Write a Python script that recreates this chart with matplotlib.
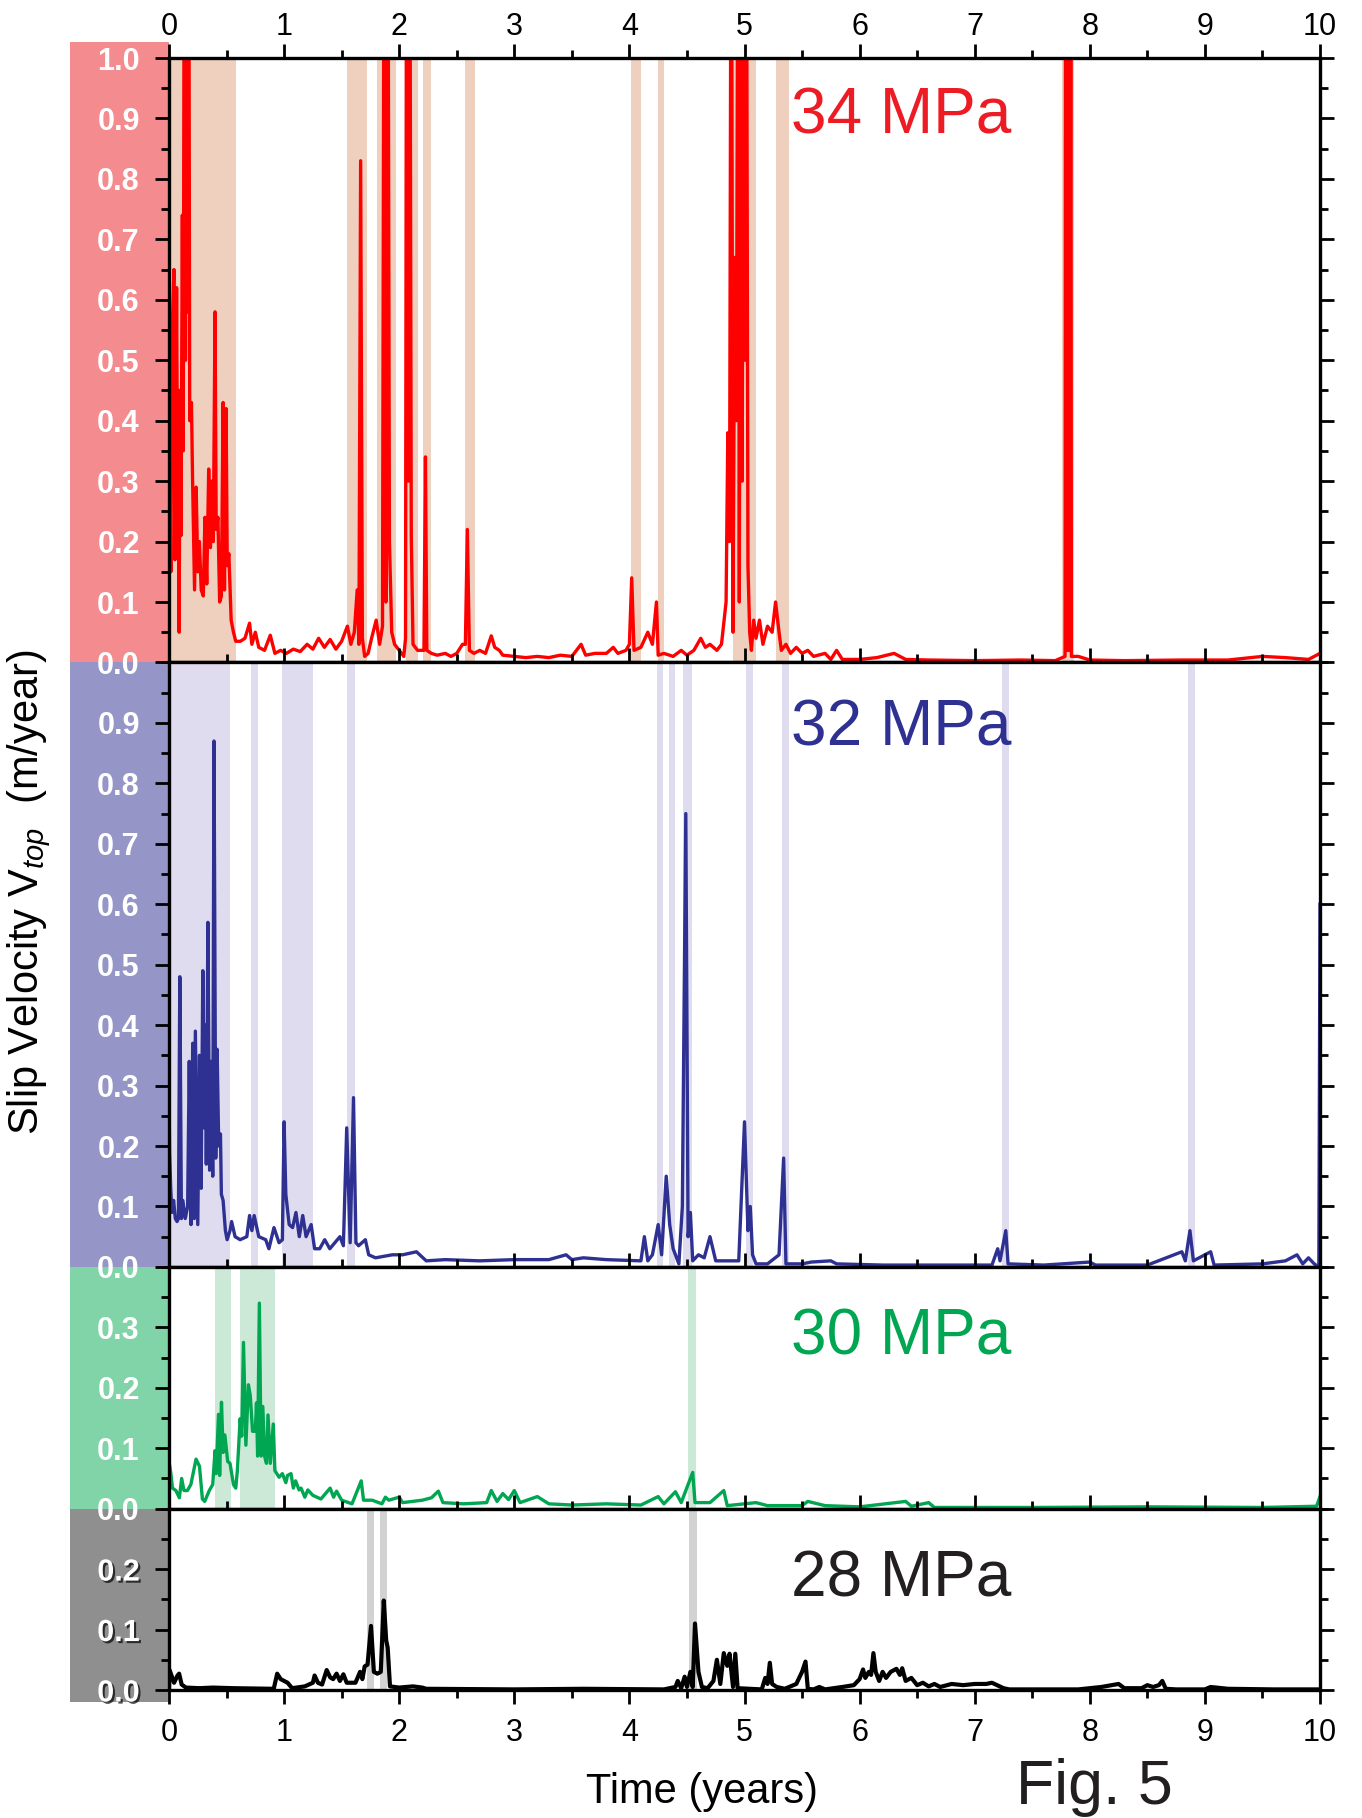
import numpy as np
import matplotlib.pyplot as plt
from matplotlib.patches import Rectangle
from matplotlib.ticker import MultipleLocator
import matplotlib.patheffects as pe

plt.rcParams['font.family'] = ['Liberation Sans', 'DejaVu Sans']
plt.rcParams['mathtext.fontset'] = 'custom'
plt.rcParams['mathtext.rm'] = 'Liberation Sans'
plt.rcParams['mathtext.it'] = 'Liberation Sans:italic'

# panel labels / colours / y ranges (top to bottom)
labels = ['34 MPa', '32 MPa', '30 MPa', '28 MPa']
line_colors = ['#ff0000', '#2e3192', '#00a651', '#000000']
line_widths = [2.4, 2.4, 2.4, 3.0]
text_colors = ['#ed1c24', '#2e3192', '#00a651', '#231f20']
span_colors = ['#efd0bf', '#dedcee', '#cce8d6', '#d2d2d3']
band_colors = ['#f48b8f', '#9695c8', '#80d4a8', '#908f90']
ymax = [1.0, 1.0, 0.4, 0.3]
label_ypos = [0.904, 0.89, 0.71, 0.61]

# shaded slip events (years)
spans34 = [(0.0, 0.58), (1.55, 1.72), (1.81, 1.97), (2.06, 2.16), (2.21, 2.28),
           (2.57, 2.66), (4.01, 4.10), (4.25, 4.30), (4.90, 5.10), (5.27, 5.39),
           (7.76, 7.86)]
spans32 = [(0.0, 0.53), (0.71, 0.77), (0.985, 1.255), (1.545, 1.62), (4.24, 4.29),
           (4.34, 4.40), (4.47, 4.54), (5.01, 5.07), (5.33, 5.39), (7.24, 7.30),
           (8.85, 8.91)]
spans30 = [(0.40, 0.54), (0.615, 0.925), (4.51, 4.58)]
spans28 = [(1.72, 1.78), (1.83, 1.89), (4.52, 4.59)]

# slip velocity (time in years, m/year)
v34 = [(0.0, 0.25), (0.008, 0.32), (0.016, 0.15), (0.028, 0.55), (0.043, 0.65),
       (0.052, 0.17), (0.066, 0.62), (0.076, 0.2), (0.082, 0.45), (0.088, 0.05),
       (0.096, 0.45), (0.104, 0.21), (0.116, 0.74), (0.124, 0.35), (0.134, 1.5),
       (0.143, 0.5), (0.152, 1.5), (0.16, 0.58), (0.17, 1.5), (0.18, 0.4),
       (0.195, 0.43), (0.205, 0.3), (0.222, 0.12), (0.236, 0.29), (0.25, 0.15),
       (0.264, 0.2), (0.28, 0.12), (0.298, 0.11), (0.312, 0.24), (0.328, 0.13),
       (0.345, 0.32), (0.36, 0.19), (0.372, 0.3), (0.385, 0.2), (0.4, 0.58),
       (0.41, 0.22), (0.425, 0.24), (0.44, 0.1), (0.455, 0.11), (0.47, 0.43),
       (0.482, 0.12), (0.496, 0.42), (0.506, 0.16), (0.52, 0.18), (0.54, 0.07),
       (0.56, 0.05), (0.58, 0.035), (0.62, 0.035), (0.66, 0.04), (0.7, 0.065),
       (0.72, 0.03), (0.75, 0.05), (0.78, 0.025), (0.83, 0.02), (0.88, 0.045),
       (0.92, 0.015), (0.97, 0.02), (1.02, 0.015), (1.08, 0.022), (1.14, 0.018),
       (1.2, 0.03), (1.25, 0.022), (1.3, 0.04), (1.35, 0.025), (1.4, 0.038),
       (1.45, 0.022), (1.5, 0.035), (1.55, 0.06), (1.58, 0.03), (1.61, 0.05),
       (1.635, 0.12), (1.65, 0.03), (1.665, 0.83), (1.68, 0.04), (1.7, 0.01),
       (1.73, 0.015), (1.76, 0.04), (1.8, 0.07), (1.83, 0.03), (1.855, 0.06),
       (1.87, 1.5), (1.885, 0.1), (1.9, 1.5), (1.915, 0.2), (1.935, 0.05),
       (1.96, 0.03), (2.0, 0.02), (2.04, 0.01), (2.055, 0.04), (2.065, 1.5),
       (2.08, 0.3), (2.09, 1.5), (2.105, 0.21), (2.12, 0.03), (2.16, 0.02),
       (2.2, 0.02), (2.215, 0.02), (2.228, 0.34), (2.24, 0.02), (2.28, 0.015),
       (2.33, 0.012), (2.4, 0.015), (2.45, 0.01), (2.5, 0.015), (2.55, 0.03),
       (2.575, 0.03), (2.592, 0.22), (2.61, 0.02), (2.65, 0.015), (2.7, 0.02),
       (2.75, 0.015), (2.8, 0.044), (2.83, 0.025), (2.87, 0.02), (2.9, 0.012),
       (3.0, 0.01), (3.1, 0.008), (3.2, 0.01), (3.3, 0.008), (3.4, 0.012),
       (3.5, 0.01), (3.58, 0.03), (3.62, 0.012), (3.7, 0.015), (3.8, 0.015),
       (3.86, 0.025), (3.9, 0.015), (3.97, 0.02), (4.0, 0.03), (4.02, 0.14),
       (4.04, 0.02), (4.1, 0.025), (4.16, 0.05), (4.2, 0.03), (4.235, 0.1),
       (4.25, 0.012), (4.3, 0.015), (4.38, 0.01), (4.45, 0.02), (4.5, 0.012),
       (4.56, 0.02), (4.62, 0.04), (4.66, 0.025), (4.7, 0.03), (4.76, 0.02),
       (4.8, 0.03), (4.84, 0.1), (4.855, 0.38), (4.87, 0.2), (4.885, 1.5),
       (4.9, 0.05), (4.915, 0.67), (4.93, 0.4), (4.945, 1.5), (4.955, 0.1),
       (4.97, 1.5), (4.98, 0.3), (4.995, 1.5), (5.005, 0.5), (5.015, 1.5),
       (5.03, 0.16), (5.045, 0.05), (5.06, 0.02), (5.08, 0.07), (5.1, 0.04),
       (5.13, 0.07), (5.16, 0.03), (5.2, 0.06), (5.24, 0.05), (5.27, 0.1),
       (5.3, 0.05), (5.32, 0.02), (5.36, 0.03), (5.4, 0.015), (5.45, 0.025),
       (5.5, 0.015), (5.55, 0.02), (5.6, 0.01), (5.7, 0.015), (5.75, 0.005),
       (5.8, 0.02), (5.85, 0.005), (6.0, 0.005), (6.15, 0.008), (6.3, 0.015),
       (6.4, 0.005), (6.6, 0.004), (7.0, 0.003), (7.4, 0.004), (7.7, 0.003),
       (7.785, 0.01), (7.79, 1.5), (7.797, 0.02), (7.805, 1.5), (7.812, 0.02),
       (7.82, 1.5), (7.827, 0.02), (7.835, 1.5), (7.84, 0.01), (7.9, 0.01),
       (8.0, 0.004), (8.3, 0.003), (8.8, 0.004), (9.2, 0.004), (9.5, 0.01),
       (9.7, 0.008), (9.9, 0.005), (10.0, 0.015)]

v32 = [(0.0, 0.30), (0.005, 0.19), (0.015, 0.13), (0.025, 0.09), (0.04, 0.11),
       (0.055, 0.08), (0.07, 0.075), (0.082, 0.08), (0.094, 0.48), (0.108, 0.08),
       (0.12, 0.11), (0.141, 0.08), (0.162, 0.10), (0.176, 0.34), (0.191, 0.07),
       (0.206, 0.37), (0.22, 0.08), (0.229, 0.39), (0.25, 0.07), (0.265, 0.35),
       (0.279, 0.13), (0.294, 0.49), (0.306, 0.23), (0.318, 0.40), (0.324, 0.17),
       (0.338, 0.57), (0.353, 0.16), (0.368, 0.34), (0.38, 0.15), (0.391, 0.87),
       (0.406, 0.18), (0.418, 0.36), (0.432, 0.20), (0.447, 0.22), (0.455, 0.12),
       (0.47, 0.11), (0.49, 0.06), (0.505, 0.045), (0.53, 0.06), (0.544, 0.075),
       (0.574, 0.05), (0.618, 0.045), (0.676, 0.05), (0.70, 0.085), (0.72, 0.06),
       (0.74, 0.085), (0.78, 0.05), (0.84, 0.045), (0.868, 0.03), (0.912, 0.065),
       (0.956, 0.04), (0.985, 0.045), (1.0, 0.24), (1.015, 0.12), (1.044, 0.07),
       (1.074, 0.065), (1.103, 0.09), (1.132, 0.05), (1.162, 0.085), (1.191, 0.05),
       (1.235, 0.07), (1.265, 0.03), (1.309, 0.03), (1.353, 0.045), (1.397, 0.03),
       (1.441, 0.04), (1.485, 0.05), (1.515, 0.035), (1.544, 0.23), (1.574, 0.04),
       (1.603, 0.28), (1.624, 0.04), (1.647, 0.035), (1.706, 0.045), (1.735, 0.02),
       (1.794, 0.015), (1.94, 0.02), (2.03, 0.02), (2.15, 0.025), (2.235, 0.01),
       (2.4, 0.012), (2.7, 0.01), (3.0, 0.012), (3.3, 0.012), (3.45, 0.02),
       (3.5, 0.012), (3.6, 0.015), (3.8, 0.012), (4.1, 0.01), (4.13, 0.05),
       (4.16, 0.01), (4.2, 0.02), (4.25, 0.07), (4.28, 0.02), (4.32, 0.15),
       (4.35, 0.07), (4.38, 0.03), (4.43, 0.005), (4.46, 0.1), (4.49, 0.75),
       (4.51, 0.05), (4.53, 0.09), (4.55, 0.01), (4.6, 0.02), (4.65, 0.015),
       (4.7, 0.05), (4.75, 0.01), (4.85, 0.01), (4.95, 0.01), (5.0, 0.24),
       (5.03, 0.06), (5.05, 0.1), (5.07, 0.02), (5.1, 0.005), (5.2, 0.005),
       (5.3, 0.02), (5.34, 0.18), (5.36, 0.005), (5.5, 0.005), (5.58, 0.008),
       (5.75, 0.01), (5.8, 0.005), (6.2, 0.003), (6.8, 0.003), (7.15, 0.003),
       (7.2, 0.03), (7.22, 0.01), (7.27, 0.06), (7.29, 0.005), (7.6, 0.003),
       (8.0, 0.008), (8.05, 0.003), (8.5, 0.003), (8.8, 0.025), (8.83, 0.01),
       (8.87, 0.06), (8.9, 0.01), (9.05, 0.025), (9.08, 0.003), (9.5, 0.005),
       (9.7, 0.01), (9.8, 0.02), (9.85, 0.005), (9.9, 0.015), (9.95, 0.005),
       (9.99, 0.0), (10.0, 0.6)]

v30 = [(0.0, 0.078), (0.015, 0.06), (0.03, 0.034), (0.06, 0.03), (0.09, 0.018),
       (0.11, 0.05), (0.13, 0.03), (0.16, 0.03), (0.19, 0.04), (0.235, 0.082),
       (0.265, 0.07), (0.29, 0.016), (0.31, 0.012), (0.35, 0.03), (0.38, 0.04),
       (0.40, 0.096), (0.41, 0.058), (0.43, 0.156), (0.44, 0.055), (0.456, 0.176),
       (0.47, 0.093), (0.485, 0.122), (0.51, 0.078), (0.53, 0.075), (0.56, 0.04),
       (0.58, 0.034), (0.594, 0.063), (0.618, 0.149), (0.632, 0.12), (0.647, 0.275),
       (0.668, 0.105), (0.69, 0.205), (0.706, 0.187), (0.726, 0.128), (0.75, 0.128),
       (0.76, 0.175), (0.77, 0.087), (0.785, 0.34), (0.80, 0.087), (0.815, 0.169),
       (0.83, 0.087), (0.847, 0.075), (0.86, 0.155), (0.88, 0.075), (0.906, 0.14),
       (0.92, 0.063), (0.956, 0.052), (0.985, 0.058), (1.015, 0.043), (1.03, 0.055),
       (1.06, 0.058), (1.08, 0.034), (1.10, 0.046), (1.13, 0.031), (1.147, 0.034),
       (1.18, 0.019), (1.206, 0.031), (1.25, 0.022), (1.32, 0.016), (1.40, 0.034),
       (1.43, 0.019), (1.456, 0.029), (1.5, 0.014), (1.59, 0.008), (1.67, 0.046),
       (1.69, 0.014), (1.765, 0.014), (1.85, 0.008), (1.88, 0.019), (1.91, 0.014),
       (2.0, 0.019), (2.03, 0.01), (2.2, 0.014), (2.28, 0.018), (2.34, 0.029),
       (2.38, 0.01), (2.56, 0.008), (2.76, 0.01), (2.8, 0.03), (2.85, 0.012),
       (2.9, 0.025), (2.95, 0.015), (3.0, 0.03), (3.05, 0.01), (3.2, 0.02),
       (3.3, 0.008), (3.5, 0.006), (3.8, 0.008), (4.1, 0.006), (4.25, 0.02),
       (4.3, 0.008), (4.4, 0.028), (4.45, 0.01), (4.52, 0.045), (4.55, 0.06),
       (4.57, 0.01), (4.7, 0.01), (4.82, 0.03), (4.85, 0.005), (5.0, 0.008),
       (5.1, 0.01), (5.2, 0.005), (5.5, 0.005), (5.55, 0.012), (5.7, 0.005),
       (6.0, 0.003), (6.4, 0.012), (6.45, 0.004), (6.6, 0.01), (6.65, 0.002),
       (7.5, 0.002), (8.5, 0.003), (9.5, 0.002), (9.97, 0.004), (10.0, 0.02)]

v28 = [(0.0, 0.0), (0.005, 0.033), (0.044, 0.012), (0.074, 0.024), (0.088, 0.027),
       (0.11, 0.009), (0.147, 0.004), (0.265, 0.003), (0.38, 0.004), (0.56, 0.003),
       (0.91, 0.002), (0.94, 0.027), (0.97, 0.018), (1.03, 0.012), (1.07, 0.003),
       (1.18, 0.006), (1.25, 0.012), (1.265, 0.024), (1.294, 0.012), (1.33, 0.009),
       (1.37, 0.033), (1.40, 0.021), (1.426, 0.018), (1.456, 0.027), (1.485, 0.015),
       (1.515, 0.026), (1.544, 0.012), (1.62, 0.012), (1.66, 0.03), (1.68, 0.018),
       (1.70, 0.039), (1.725, 0.042), (1.755, 0.106), (1.78, 0.03), (1.81, 0.027),
       (1.84, 0.03), (1.866, 0.148), (1.887, 0.082), (1.90, 0.07), (1.92, 0.006),
       (2.0, 0.004), (2.12, 0.006), (2.2, 0.004), (2.235, 0.002), (3.0, 0.001),
       (3.6, 0.002), (4.3, 0.001), (4.4, 0.005), (4.42, 0.015), (4.45, 0.003),
       (4.48, 0.022), (4.5, 0.005), (4.53, 0.03), (4.55, 0.005), (4.57, 0.11),
       (4.6, 0.03), (4.63, 0.005), (4.68, 0.003), (4.73, 0.015), (4.76, 0.05),
       (4.79, 0.01), (4.82, 0.061), (4.85, 0.04), (4.87, 0.06), (4.9, 0.005),
       (4.92, 0.06), (4.94, 0.003), (5.15, 0.001), (5.18, 0.02), (5.2, 0.01),
       (5.22, 0.045), (5.24, 0.01), (5.28, 0.005), (5.35, 0.002), (5.45, 0.01),
       (5.5, 0.03), (5.53, 0.047), (5.55, 0.002), (5.6, 0.001), (5.65, 0.005),
       (5.7, 0.001), (5.85, 0.005), (5.95, 0.008), (6.0, 0.018), (6.03, 0.034),
       (6.05, 0.02), (6.08, 0.03), (6.1, 0.025), (6.12, 0.061), (6.14, 0.03),
       (6.17, 0.015), (6.2, 0.03), (6.23, 0.02), (6.27, 0.03), (6.32, 0.035),
       (6.35, 0.025), (6.37, 0.036), (6.4, 0.015), (6.45, 0.02), (6.5, 0.008),
       (6.55, 0.012), (6.6, 0.006), (6.65, 0.01), (6.7, 0.005), (6.8, 0.01),
       (6.9, 0.008), (7.0, 0.01), (7.1, 0.01), (7.15, 0.012), (7.25, 0.003),
       (7.3, 0.001), (7.9, 0.001), (8.0, 0.003), (8.1, 0.005), (8.25, 0.01),
       (8.3, 0.003), (8.45, 0.003), (8.5, 0.008), (8.55, 0.005), (8.6, 0.008),
       (8.63, 0.015), (8.66, 0.002), (8.75, 0.001), (9.0, 0.001), (9.05, 0.005),
       (9.2, 0.002), (9.6, 0.001), (10.0, 0.001)]

series = [v34, v32, v30, v28]
spans = [spans34, spans32, spans30, spans28]

W, H = 1362, 1818
fig = plt.figure(figsize=(W / 100, H / 100), dpi=100)

# plot area in pixels
x_left, x_right = 169, 1320
y_top, y_bottom = 58, 1690
unit = (y_bottom - y_top) / sum(ymax)

y = y_top
axes = []
for i in range(4):
    h = ymax[i] * unit
    ax = fig.add_axes([x_left / W, 1 - (y + h) / H, (x_right - x_left) / W, h / H])

    # coloured band behind the y tick labels
    band_top = y - 16 if i == 0 else y
    band_bot = y + h + 12 if i == 3 else y + h
    fig.patches.append(Rectangle((70 / W, 1 - band_bot / H), (x_left - 70) / W,
                                 (band_bot - band_top) / H, transform=fig.transFigure,
                                 facecolor=band_colors[i], edgecolor='none', zorder=-1))
    y += h

    for a, b in spans[i]:
        ax.axvspan(a, b, color=span_colors[i], lw=0, zorder=0)

    t, v = np.array(series[i]).T
    ax.plot(t, v, color=line_colors[i], lw=line_widths[i], zorder=2)

    ax.set_xlim(0, 10)
    ax.set_ylim(0, ymax[i])

    ax.text(5.4, label_ypos[i], labels[i], transform=ax.get_xaxis_transform(),
            fontsize=46, color=text_colors[i], ha='left', va='center')

    # y ticks (top value only labelled on top panel)
    if i == 0:
        yt = np.arange(0, 1.01, 0.1)
    else:
        yt = np.arange(0, ymax[i] - 0.05, 0.1)
    ax.set_yticks(yt, labels=['%.1f' % val for val in yt], fontsize=22,
                  fontweight='bold', color='white')
    ax.yaxis.set_minor_locator(MultipleLocator(0.05))
    ax.tick_params(axis='y', which='both', direction='out', left=True, right=True, width=2)
    ax.tick_params(axis='y', which='major', length=10, pad=11)
    ax.tick_params(axis='y', which='minor', length=5.5)
    if i == 3:
        for lab in ax.get_yticklabels():
            lab.set_path_effects([pe.withSimplePatchShadow(offset=(1.5, -1.5),
                                                           shadow_rgbFace='black', alpha=0.7)])

    ax.xaxis.set_major_locator(MultipleLocator(1))
    ax.xaxis.set_minor_locator(MultipleLocator(0.5))
    ax.tick_params(axis='x', which='both', direction='out', bottom=True, top=True,
                   labelbottom=(i == 3), labeltop=(i == 0), labelsize=22, width=2)
    ax.tick_params(axis='x', which='major', length=10, pad=(1.5 if i == 0 else 10))
    ax.tick_params(axis='x', which='minor', length=5.5)

    for s in ax.spines.values():
        s.set_linewidth(2.4)
    axes.append(ax)

fig.text(702 / W, 1 - 1803 / H, 'Time (years)', fontsize=30, ha='center', va='baseline')
fig.text(29 / W, 0.509, r'Slip Velocity V$_{top}$  (m/year)', rotation=90,
         fontsize=30, ha='center', va='center')
fig.text(1016 / W, 14 / H, 'Fig. 5', fontsize=45, ha='left', va='baseline', color='#231f20')

fig.savefig('out.png', dpi=100)
